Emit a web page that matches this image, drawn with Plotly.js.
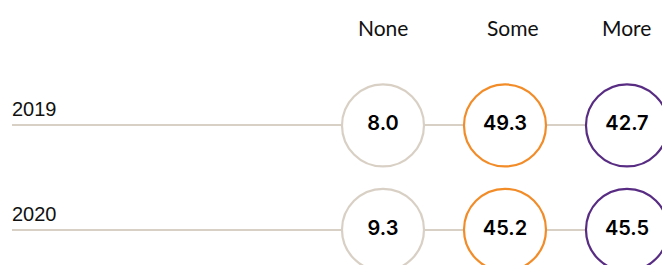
<!DOCTYPE html>
<html>
<head>
<meta charset="utf-8">
<script src="https://cdn.plot.ly/plotly-3.0.1.min.js"></script>
<style>html,body{margin:0;padding:0;background:#fff;}#chart{width:662px;height:265px;}</style>
</head>
<body>
<div id="chart"></div>
<script>
const categories = ["None", "Some", "More"];
const years = ["2019", "2020"];
const noneValues = [8.0, 9.3];
const someValues = [49.3, 45.2];
const moreValues = [42.7, 45.5];

const seriesValues = [noneValues, someValues, moreValues];
const colors = ["#d9d0c5", "#f28c28", "#582c83"];

const traces = categories.map((cat, i) => ({
  type: "scatter",
  mode: "markers+text",
  x: years.map(() => cat),
  y: years,
  text: seriesValues[i].map(v => v.toFixed(1)),
  textposition: "middle center",
  textfont: {family: "Inter, 'DejaVu Sans', sans-serif", size: 20, color: "#000", weight: 600},
  marker: {symbol: "circle", size: 82, color: "#ffffff", line: {color: colors[i], width: 2.2}},
  hoverinfo: "none",
  showlegend: false,
  cliponaxis: false
}));

const annotations = [];
const headerShift = [0, 8, 0];
categories.forEach((cat, i) => {
  annotations.push({
    x: i, xref: "x", y: 1, yref: "paper", yanchor: "middle", yshift: -27, xshift: headerShift[i],
    text: cat, showarrow: false,
    font: {family: "Lato, 'Open Sans', sans-serif", size: 21, color: "#111"}
  });
});
years.forEach((yr, j) => {
  annotations.push({
    x: 0, xref: "paper", xanchor: "left", y: j, yref: "y", yanchor: "middle", yshift: 16, xshift: -2,
    text: yr, showarrow: false,
    font: {family: "'Liberation Sans', Arial, sans-serif", size: 20, color: "#111"}
  });
});

const layout = {
  width: 662, height: 265,
  margin: {l: 12, r: 0, t: 0, b: 0},
  paper_bgcolor: "#fff", plot_bgcolor: "#fff",
  xaxis: {type: "category", categoryarray: categories, range: [-3.041, 2.287],
          showgrid: false, zeroline: false, showticklabels: false, showline: false, fixedrange: true},
  yaxis: {type: "category", categoryarray: years, range: [1.337, -1.202],
          showgrid: true, gridcolor: "#d9d0c5", gridwidth: 2, zeroline: false,
          showticklabels: false, showline: false, fixedrange: true},
  annotations: annotations
};

Plotly.newPlot("chart", traces, layout, {displayModeBar: false, staticPlot: true});
</script>
</body>
</html>
